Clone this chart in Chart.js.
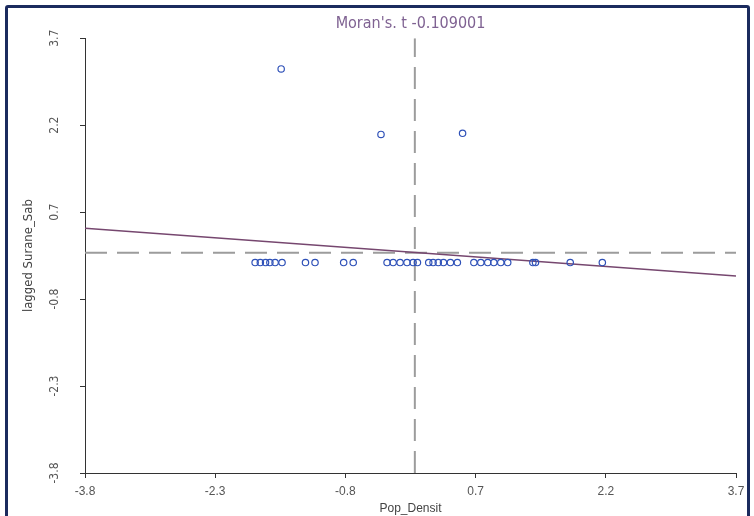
<!DOCTYPE html>
<html>
<head>
<meta charset="utf-8">
<script src="https://cdn.jsdelivr.net/npm/chart.js@4"></script>
<style>
  html, body { margin: 0; padding: 0; background: #ffffff; }
  #wrap { position: relative; width: 754px; height: 516px; overflow: hidden; }
  #frame { position: absolute; left: 5px; top: 5px; width: 739px; height: 530px;
           border: 3px solid #1b2b5e; border-radius: 3px; pointer-events: none; }
</style>
</head>
<body>
<div id="wrap">
  <canvas id="c" width="754" height="516"></canvas>
  <div id="frame"></div>
</div>
<script>
// ---- data ----
const chartTitle = "Moran's. t -0.109001";
const xTitle = "Pop_Densit";
const yTitle = "lagged Surane_Sab";
const xTicks = [-3.8, -2.3, -0.8, 0.7, 2.2, 3.7];
const yTicks = [-3.8, -2.3, -0.8, 0.7, 2.2, 3.7];

// standardized population density (x) and lagged value (y) of each unit
const popDensit = [-1.84, -1.78, -1.72, -1.67, -1.61, -1.53, -1.26, -1.15, -0.82, -0.71,
                   -0.32, -0.25, -0.17, -0.09, -0.02, 0.03, 0.16, 0.21, 0.27, 0.33,
                   0.41, 0.49, 0.68, 0.76, 0.84, 0.91, 0.99, 1.07, 1.36, 1.39,
                   1.79, 2.16, -1.54, -0.39, 0.55];
const laggedSab = [-0.17, -0.17, -0.17, -0.17, -0.17, -0.17, -0.17, -0.17, -0.17, -0.17,
                   -0.17, -0.17, -0.17, -0.17, -0.17, -0.17, -0.17, -0.17, -0.17, -0.17,
                   -0.17, -0.17, -0.17, -0.17, -0.17, -0.17, -0.17, -0.17, -0.17, -0.17,
                   -0.17, -0.17, 3.17, 2.04, 2.06];

// fitted Moran regression line end points
const regX = [-3.8, 3.7];
const regY = [0.42, -0.40];

// reference (mean) lines
const meanX = 0;
const meanY = 0;

// ---- build ----
const pts = popDensit.map((x, i) => ({ x: x, y: laggedSab[i] }));
const regPts = regX.map((x, i) => ({ x: x, y: regY[i] }));
const hLine = [{ x: xTicks[0], y: meanY }, { x: xTicks[xTicks.length - 1], y: meanY }];
const vLine = [{ x: meanX, y: yTicks[0] }, { x: meanX, y: yTicks[yTicks.length - 1] }];

const tickFont = { family: "'Liberation Sans', Arial, sans-serif", size: 12 };
const narrow = "'Liberation Sans Narrow', 'DejaVu Sans Condensed', 'Liberation Sans', sans-serif";

new Chart(document.getElementById('c'), {
  type: 'scatter',
  data: {
    datasets: [
      { label: 'units', data: pts, showLine: false, order: 1,
        pointRadius: 3.2, pointBorderWidth: 1.2, pointStyle: 'circle',
        borderColor: '#2f51b8', backgroundColor: 'rgba(0,0,0,0)' },
      { label: 'fit', data: regPts, showLine: true, order: 2, pointRadius: 0,
        borderColor: '#76476f', borderWidth: 1.5, fill: false },
      { label: 'h', data: hLine, showLine: true, order: 3, pointRadius: 0,
        borderColor: '#9c9c9c', borderWidth: 2, borderDash: [22, 10], fill: false },
      { label: 'v', data: vLine, showLine: true, order: 3, pointRadius: 0,
        borderColor: '#9c9c9c', borderWidth: 2, borderDash: [22, 10], fill: false }
    ]
  },
  options: {
    responsive: false,
    animation: false,
    events: [],
    layout: { padding: { left: 17, right: 18, top: 0, bottom: 0 } },
    plugins: {
      legend: { display: false },
      tooltip: { enabled: false },
      title: {
        display: true, fullSize: false, text: chartTitle, color: '#7f6292',
        font: { family: narrow, size: 16, weight: 'normal' },
        padding: { top: 14, bottom: 5 }
      }
    },
    scales: {
      x: {
        type: 'linear', min: xTicks[0], max: xTicks[xTicks.length - 1],
        afterBuildTicks: s => { s.ticks = xTicks.map(v => ({ value: v })); },
        afterFit: s => { s.height = 43; },
        grid: { display: true, drawOnChartArea: false, drawTicks: true, tickLength: 5, color: '#333' },
        border: { display: true, color: '#333', width: 1 },
        ticks: { color: '#555', font: tickFont, padding: 6, maxRotation: 0, autoSkip: false,
                 callback: v => Number(v).toFixed(1) },
        title: { display: true, text: xTitle, color: '#444',
                 font: { family: "'Liberation Sans', Arial, sans-serif", size: 12 },
                 padding: { top: 0, bottom: 0 } }
      },
      y: {
        type: 'linear', min: yTicks[0], max: yTicks[yTicks.length - 1],
        afterBuildTicks: s => { s.ticks = yTicks.map(v => ({ value: v })); },
        afterFit: s => { s.width = 68; },
        grid: { display: true, drawOnChartArea: false, drawTicks: true, tickLength: 5, color: '#333' },
        border: { display: true, color: '#333', width: 1 },
        ticks: { color: '#555', font: { family: narrow, size: 12 }, padding: 15,
                 minRotation: 90, maxRotation: 90, crossAlign: 'center', autoSkip: false,
                 callback: v => Number(v).toFixed(1) },
        title: { display: true, text: yTitle, color: '#444',
                 font: { family: narrow, size: 13 },
                 padding: { top: 4, bottom: 0 } }
      }
    }
  }
});
</script>
</body>
</html>
